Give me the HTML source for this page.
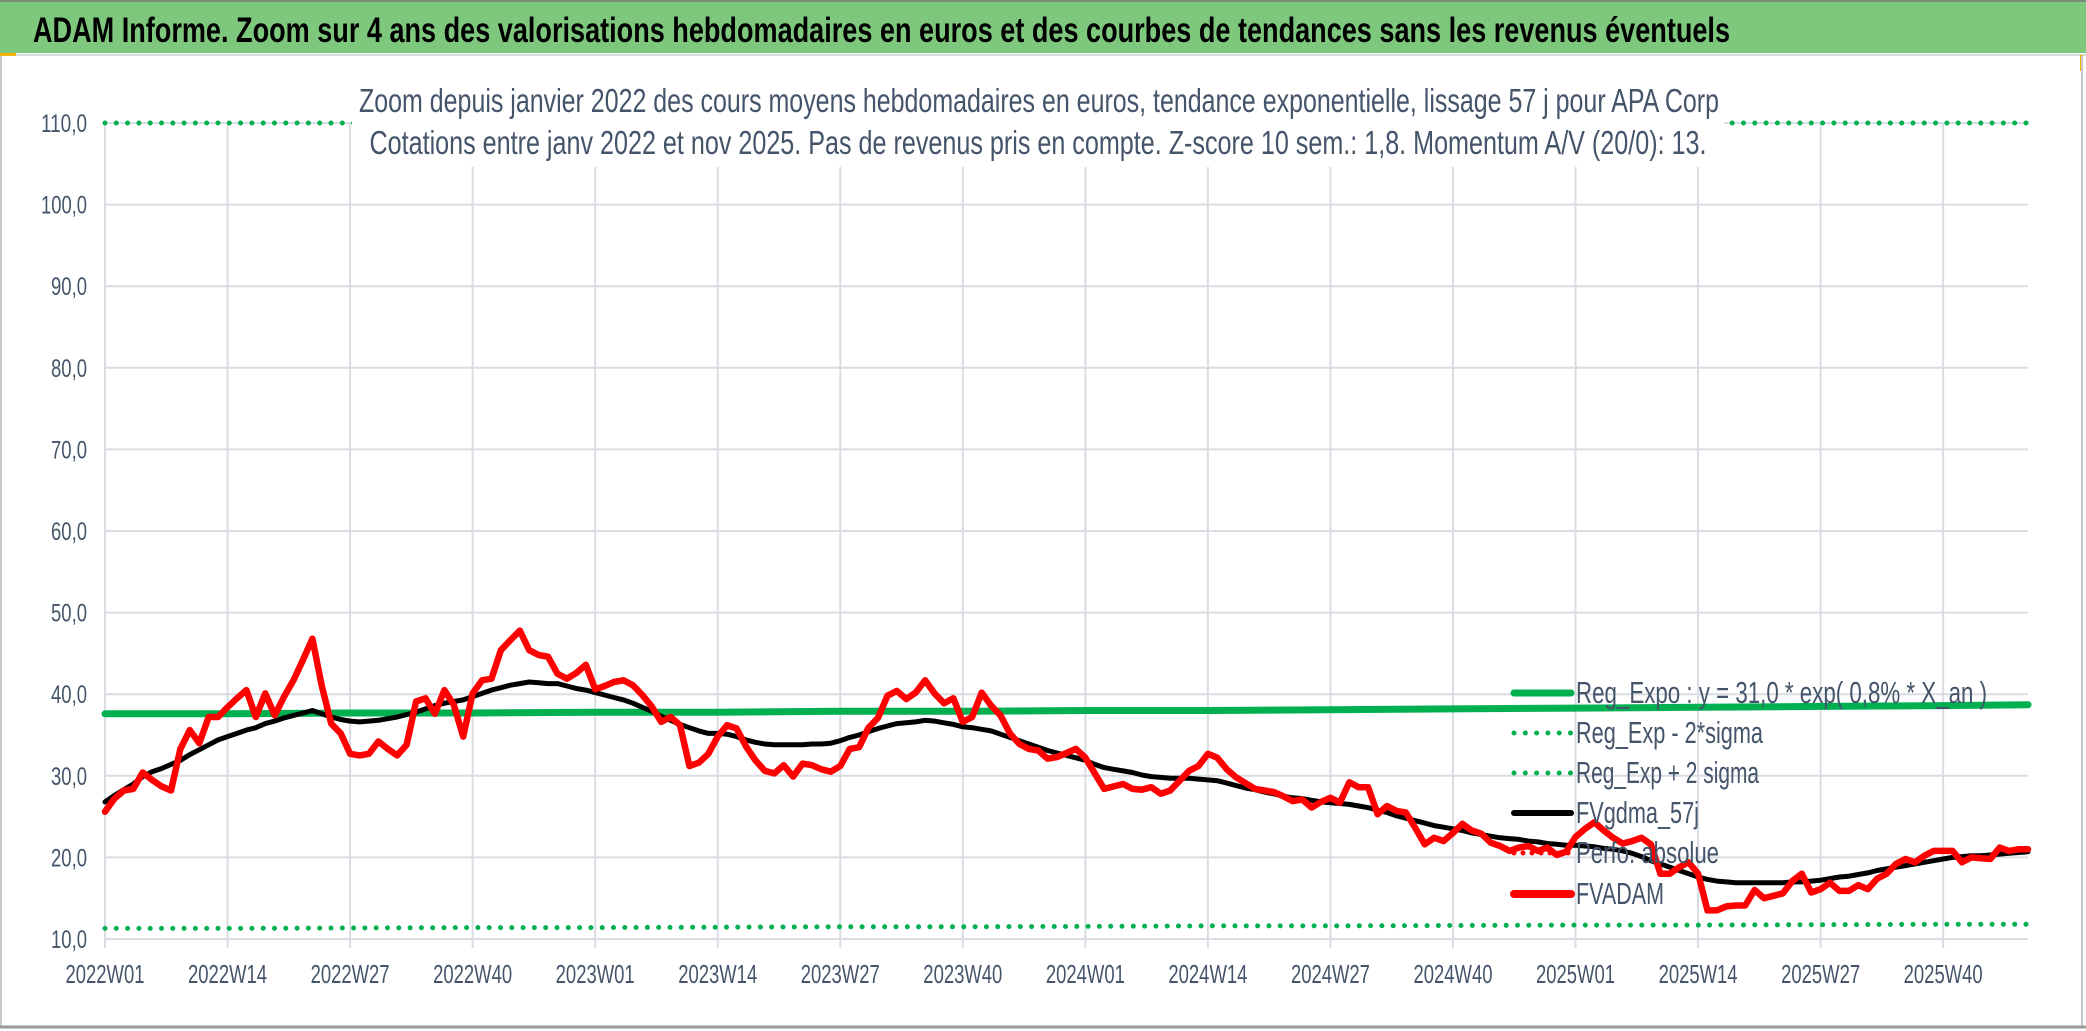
<!DOCTYPE html>
<html><head><meta charset="utf-8"><style>
html,body{margin:0;padding:0;background:#fff;}
svg{display:block;}
text{font-family:"Liberation Sans Narrow","Liberation Sans",sans-serif;}
</style></head><body>
<svg id="chart" width="2086" height="1031" viewBox="0 0 2086 1031" xmlns="http://www.w3.org/2000/svg">
<rect x="0" y="0" width="2086" height="1031" fill="#fff"/>
<rect x="0" y="0" width="2086" height="53" fill="#7ec87e"/>
<line x1="0" y1="1" x2="2086" y2="1" stroke="#7a8a7a" stroke-width="2"/>
<text x="33" y="42" font-size="35" font-weight="bold" fill="#000" textLength="1697" lengthAdjust="spacingAndGlyphs">ADAM Informe. Zoom sur 4 ans des valorisations hebdomadaires en euros et des courbes de tendances sans les revenus éventuels</text>
<line x1="0" y1="55" x2="2086" y2="55" stroke="#d9dde3" stroke-width="2"/>
<rect x="0" y="53" width="16" height="3" fill="#f0b400"/>
<rect x="2080" y="55" width="3" height="16" fill="#f0b400"/>
<line x1="1" y1="56" x2="1" y2="1027" stroke="#c8c8c8" stroke-width="2"/>
<line x1="2082" y1="56" x2="2082" y2="1027" stroke="#c8c8c8" stroke-width="2"/>
<line x1="0" y1="1027" x2="2086" y2="1027" stroke="#9a9a9a" stroke-width="3"/>
<g id="grid"></g>
<g id="axes"></g>
<g id="series"></g>
<rect x="352" y="78" width="1372" height="89" fill="#fff"/>
<text x="1039" y="112" font-size="33" fill="#44546a" text-anchor="middle" textLength="1360" lengthAdjust="spacingAndGlyphs">Zoom depuis janvier 2022 des cours moyens hebdomadaires en euros, tendance exponentielle, lissage 57 j pour APA Corp</text>
<text x="1038" y="154" font-size="33" fill="#44546a" text-anchor="middle" textLength="1337" lengthAdjust="spacingAndGlyphs">Cotations entre janv 2022 et nov 2025. Pas de revenus pris en compte. Z-score 10 sem.: 1,8. Momentum A/V (20/0): 13.</text>
<g id="legend"></g>
</svg>
<script>
const redValues=[25.6,27.2,28.2,28.4,30.4,29.5,28.7,28.2,33.3,35.6,34.0,37.2,37.2,38.4,39.5,40.5,37.2,40.1,37.4,39.7,41.7,44.2,46.8,41.0,36.4,35.2,32.7,32.5,32.7,34.2,33.3,32.5,33.8,39.1,39.5,37.6,40.5,38.7,34.8,40.1,41.7,41.9,45.4,46.6,47.8,45.4,44.8,44.6,42.5,41.9,42.6,43.6,40.6,41.0,41.5,41.7,41.1,39.9,38.5,36.6,37.2,36.2,31.2,31.6,32.7,34.8,36.2,35.8,33.6,31.9,30.6,30.3,31.3,29.9,31.5,31.3,30.8,30.5,31.2,33.3,33.5,35.9,37.1,39.8,40.4,39.4,40.2,41.7,40.1,38.9,39.5,36.6,37.2,40.2,38.6,37.4,35.2,33.9,33.3,33.1,32.1,32.3,32.8,33.3,32.2,30.3,28.4,28.7,29.0,28.4,28.3,28.6,27.8,28.2,29.4,30.6,31.2,32.7,32.2,30.8,29.8,29.1,28.4,28.2,28.0,27.5,26.9,27.1,26.1,26.8,27.3,26.7,29.2,28.6,28.6,25.3,26.3,25.7,25.5,23.6,21.6,22.4,22.0,23.0,24.1,23.3,22.9,21.8,21.4,20.8,21.2,21.4,20.8,21.2,20.3,20.7,22.5,23.5,24.3,23.3,22.4,21.7,22.0,22.4,21.6,18.0,18.0,18.8,19.4,18.0,13.5,13.5,14.0,14.1,14.1,16.0,15.0,15.3,15.6,17.1,18.0,15.7,16.1,16.9,15.9,15.9,16.6,16.1,17.4,18.0,19.2,19.8,19.4,20.2,20.8,20.8,20.8,19.4,20.0,19.9,19.8,21.2,20.8,21.0,21.0];
const blackValues=[26.8,27.6,28.3,29.0,29.9,30.5,30.9,31.4,31.9,32.6,33.2,33.8,34.4,34.8,35.2,35.6,35.9,36.4,36.7,37.1,37.4,37.7,38.0,37.6,37.2,36.9,36.7,36.6,36.7,36.8,37.0,37.2,37.5,37.8,38.2,38.6,38.9,39.1,39.3,39.7,40.1,40.5,40.8,41.1,41.3,41.5,41.4,41.3,41.3,41.0,40.7,40.5,40.2,39.9,39.6,39.3,38.9,38.4,37.9,37.3,36.8,36.3,35.9,35.5,35.2,35.2,35.1,34.8,34.4,34.1,33.9,33.8,33.8,33.8,33.8,33.9,33.9,34.0,34.3,34.7,35.0,35.4,35.8,36.1,36.4,36.5,36.6,36.8,36.7,36.5,36.3,36.0,35.9,35.7,35.5,35.1,34.7,34.3,33.9,33.5,33.1,32.8,32.5,32.2,31.9,31.4,31.0,30.8,30.6,30.4,30.1,29.9,29.8,29.7,29.7,29.7,29.6,29.5,29.4,29.1,28.8,28.5,28.3,28.0,27.8,27.5,27.3,27.2,27.0,26.8,26.7,26.6,26.5,26.3,26.1,25.8,25.5,25.1,24.8,24.5,24.2,23.9,23.7,23.5,23.3,23.0,22.8,22.6,22.4,22.3,22.2,22.0,21.9,21.7,21.6,21.5,21.5,21.4,21.3,21.1,21.0,20.8,20.5,20.1,19.6,19.2,18.8,18.4,18.0,17.6,17.3,17.1,17.0,16.9,16.9,16.9,16.9,16.9,16.9,17.0,17.0,17.1,17.2,17.4,17.6,17.7,17.9,18.1,18.4,18.6,18.8,19.0,19.2,19.4,19.6,19.8,20.0,20.1,20.2,20.2,20.3,20.4,20.5,20.6,20.7];
const trendIdx=[0,13,26,39,52,65,78,91,104,117,130,143,156,169,182,195,204];
const regExpo=[37.6,37.6,37.7,37.7,37.8,37.8,37.9,37.9,38.0,38.0,38.1,38.2,38.3,38.4,38.5,38.6,38.7];
const regLow=[11.3,11.3,11.35,11.4,11.4,11.45,11.5,11.5,11.55,11.6,11.6,11.65,11.7,11.7,11.75,11.8,11.8];
const regHigh=[110,110,110,110,110,110,110,110,110,110,110,110,110,110,110,110,110];
const xTickLabels=["2022W01","2022W14","2022W27","2022W40","2023W01","2023W14","2023W27","2023W40","2024W01","2024W14","2024W27","2024W40","2025W01","2025W14","2025W27","2025W40"];
const yTicks=[10,20,30,40,50,60,70,80,90,100,110];
const legendLabels=["Reg_Expo : y = 31,0 * exp( 0,8% *  X_an )","Reg_Exp - 2*sigma","Reg_Exp + 2 sigma","FVgdma_57j","Perfo. absolue","FVADAM"];
const legendWidths=[411,187,183,123,143,88];

const NS="http://www.w3.org/2000/svg";
const X0=105,X1=2028,Y10=939,Y110=123,N=205;
function xs(i){return X0+i*(X1-X0)/(N-1);}
function ys(v){return Y10-(v-10)*(Y10-Y110)/100;}
function mk(tag,attrs,parent){const e=document.createElementNS(NS,tag);for(const k in attrs)e.setAttribute(k,attrs[k]);parent.appendChild(e);return e;}
const grid=document.getElementById('grid'),axes=document.getElementById('axes'),series=document.getElementById('series'),legend=document.getElementById('legend');

yTicks.forEach(v=>{
  const l=mk('line',{x1:X0,x2:X1,y1:ys(v),y2:ys(v),stroke:'#d9dde3','stroke-width':2},grid);
  
  
  const lab=v.toFixed(1).replace('.',',');
  const t=mk('text',{x:87,y:ys(v)+9,'font-size':25,fill:'#44546a','text-anchor':'end',textLength:lab.length===5?46:36,lengthAdjust:'spacingAndGlyphs'},axes);
  t.textContent=lab;
  
  
});
xTickLabels.forEach((lab,k)=>{
  const x=xs(k*13);
  const l=mk('line',{x1:x,x2:x,y1:Y110,y2:Y10+9,stroke:'#d9dde3','stroke-width':2},grid);
  
  
  const t=mk('text',{x:x,y:983,'font-size':26,fill:'#44546a','text-anchor':'middle',textLength:79,lengthAdjust:'spacingAndGlyphs'},axes);
  t.textContent=lab;
  
  
});

function pathFrom(idx,vals){return vals.map((v,j)=>(j?'L':'M')+xs(idx[j]).toFixed(1)+' '+ys(v).toFixed(1)).join(' ');}
const allIdx=redValues.map((_,i)=>i);
const pHigh=mk('path',{d:pathFrom(trendIdx,regHigh),fill:'none',stroke:'#00b050','stroke-width':5,'stroke-linecap':'round','stroke-dasharray':'0 11.3'},series);


const pLow=mk('path',{d:pathFrom(trendIdx,regLow),fill:'none',stroke:'#00b050','stroke-width':5,'stroke-linecap':'round','stroke-dasharray':'0 11.3'},series);


const pReg=mk('path',{d:pathFrom(trendIdx,regExpo),fill:'none',stroke:'#00b050','stroke-width':7,'stroke-linecap':'round'},series);


const pBlack=mk('path',{d:pathFrom(allIdx,blackValues),fill:'none',stroke:'#000','stroke-width':5,'stroke-linejoin':'round','stroke-linecap':'round'},series);


const pRed=mk('path',{d:pathFrom(allIdx,redValues),fill:'none',stroke:'#ff0000','stroke-width':6.5,'stroke-linejoin':'round','stroke-linecap':'round'},series);



const legY=[693,733,773,813,853,894];
const legStyle=[
 {stroke:'#00b050',w:7,dash:null},
 {stroke:'#00b050',w:5,dash:'0 11.3'},
 {stroke:'#00b050',w:5,dash:'0 11.3'},
 {stroke:'#000',w:6,dash:null},
 {stroke:'#ff0000',w:5,dash:'0 9'},
 {stroke:'#ff0000',w:8,dash:null}];
legendLabels.forEach((lab,k)=>{
  const s=legStyle[k];
  const a={x1:1514,x2:1571,y1:legY[k],y2:legY[k],stroke:s.stroke,'stroke-width':s.w,'stroke-linecap':'round'};
  if(s.dash)a['stroke-dasharray']=s.dash;
  const l=mk('line',a,legend);
  
  
  const t=mk('text',{x:1576,y:legY[k]+10,'font-size':31,fill:'#44546a',textLength:legendWidths[k],lengthAdjust:'spacingAndGlyphs'},legend);
  t.textContent=lab;
  
  
});
</script>
</body></html>
